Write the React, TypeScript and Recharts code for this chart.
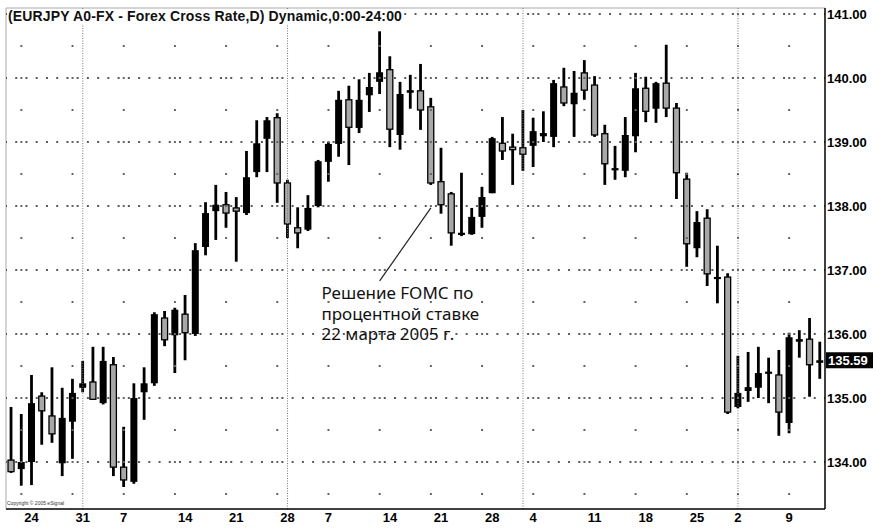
import React from 'react';
import {
  ComposedChart,
  Bar,
  XAxis,
  YAxis,
  ReferenceLine,
  ReferenceDot,
} from 'recharts';

const OPEN = [
  134.03, 133.89, 134.0, 135.03, 134.72, 133.98, 134.63, 135.16, 135.25, 134.92,
  135.52, 133.92, 133.69, 135.09, 135.23, 136.25, 135.98, 136.31, 136.0, 137.36,
  137.92, 138.02, 137.97, 137.89, 138.53, 139.05, 139.38, 138.36, 137.66, 137.63,
  138.0, 138.69, 138.97, 139.66, 139.22, 139.73, 139.94, 140.13, 139.11, 139.77,
  139.8, 139.55, 138.38, 138.19, 137.55, 137.56, 137.83, 138.2, 138.98, 138.92,
  138.91, 138.94, 139.09, 139.08, 139.86, 139.59, 140.08, 139.89, 139.13, 138.56,
  138.55, 139.09, 139.84, 139.52, 139.92, 139.53, 138.42, 137.34, 137.81, 136.86,
  136.89, 134.86, 135.11, 135.16, 135.38, 135.36, 134.61, 135.88, 135.92, 135.55,
];
const HIGH = [
  134.86, 134.75, 135.36, 135.09, 135.48, 135.16, 135.3, 135.58, 135.8, 135.8,
  135.64, 134.55, 135.23, 135.48, 136.34, 136.36, 136.41, 136.61, 137.42, 138.06,
  138.33, 138.22, 138.14, 138.86, 139.34, 139.39, 139.45, 138.41, 137.98, 138.17,
  138.72, 139.0, 139.8, 139.88, 139.98, 140.08, 140.73, 140.34, 139.94, 140.05,
  140.22, 139.69, 138.91, 138.22, 138.52, 137.97, 138.3, 139.08, 139.39, 139.13,
  139.5, 139.38, 139.48, 139.97, 140.16, 140.11, 140.28, 140.03, 139.27, 138.94,
  139.39, 140.08, 140.02, 139.94, 140.52, 139.61, 138.52, 137.92, 137.95, 137.38,
  136.95, 135.66, 135.72, 135.8, 135.63, 135.75, 136.02, 136.06, 136.25, 135.88,
];
const LOW = [
  133.83, 133.63, 133.64, 134.27, 134.3, 133.78, 134.05, 135.09, 134.97, 134.9,
  133.78, 133.61, 133.66, 134.66, 135.19, 135.81, 135.39, 135.59, 135.97, 137.23,
  137.47, 137.66, 137.13, 137.86, 138.45, 138.53, 138.05, 137.5, 137.34, 137.61,
  137.98, 138.38, 138.77, 138.64, 139.14, 139.47, 139.75, 138.92, 138.88, 139.52,
  139.19, 138.33, 137.88, 137.38, 137.53, 137.55, 137.66, 138.2, 138.72, 138.33,
  138.55, 138.61, 139.0, 138.92, 139.56, 139.08, 139.66, 139.08, 138.33, 138.41,
  138.45, 138.84, 139.31, 139.3, 139.39, 138.11, 137.05, 137.2, 136.75, 136.48,
  134.75, 134.84, 134.94, 135.0, 134.92, 134.41, 134.45, 135.63, 135.02, 135.3,
];
const CLOSE = [
  133.85, 134.0, 134.92, 134.8, 134.44, 134.69, 135.08, 135.23, 134.98, 135.58,
  133.92, 133.72, 135.0, 135.23, 136.31, 135.91, 136.38, 136.02, 137.31, 137.89,
  138.02, 137.89, 137.92, 138.45, 138.98, 139.34, 138.36, 137.72, 137.58, 137.97,
  138.7, 138.97, 139.66, 139.23, 139.66, 139.86, 140.09, 139.2, 139.75, 139.81,
  139.5, 138.36, 138.02, 137.58, 137.58, 137.83, 138.14, 139.06, 138.86, 138.88,
  138.81, 139.17, 139.14, 139.92, 139.61, 139.77, 139.81, 139.11, 138.66, 138.59,
  139.11, 139.84, 139.48, 139.92, 139.53, 138.52, 137.41, 137.75, 136.94, 136.89,
  134.78, 135.08, 135.17, 135.39, 135.41, 134.78, 135.95, 135.92, 135.52, 135.59,
];

const TICK_INDEX = [2, 7, 11, 17, 22, 27, 31, 37, 42, 47, 51, 57, 62, 67, 71, 76];
const TICK_LABELS = ['24', '31', '7', '14', '21', '28', '7', '14', '21', '28', '4', '11', '18', '25', '2', '9'];
const PRICE_TICKS = [134, 135, 136, 137, 138, 139, 140, 141];
const MONTH_LINES = [7, 27, 50, 71];
const WEEK_GRID = [1, 6, 11, 16, 21, 26, 31, 36, 41, 46, 51, 56, 61, 66, 71, 76];
const LAST_PRICE = 135.59;
const Y_MIN = 133.266;
const Y_MAX = 141.094;
const TITLE = '(EURJPY A0-FX - Forex Cross Rate,D) Dynamic,0:00-24:00';
const NOTE_LINES = ['Решение FOMC по', 'процентной ставке', '22 марта 2005 г.'];
const NOTE_ANCHOR = { x: 31, y: 136.547 };
const NOTE_LEADER = [
  { x: 41, y: 137.97 },
  { x: 36, y: 136.83 },
];

const data = OPEN.map((o, i) => ({
  i,
  o,
  h: HIGH[i],
  l: LOW[i],
  c: CLOSE[i],
  range: [LOW[i], HIGH[i]],
}));

const AXIS_FONT = 'Liberation Sans, Arial, sans-serif';

const Candle = (props: any) => {
  const { x, y, width, height, payload } = props;
  if (!payload) return null;
  const top = Math.min(y, y + height);
  const bot = Math.max(y, y + height);
  const { o, h, l, c } = payload;
  const span = h - l || 1;
  const py = (p: number) => top + ((h - p) / span) * (bot - top);
  const cx = x + width / 2;
  const up = c >= o;
  const bTop = py(Math.max(o, c));
  const bBot = py(Math.min(o, c));
  const bh = Math.max(bBot - bTop, 2.2);
  const bw = up ? 7 : 6;
  return (
    <g>
      <line x1={cx} x2={cx} y1={top} y2={bot} stroke="#000" strokeWidth={2.8} />
      <rect
        x={cx - bw / 2}
        y={bTop - (bh - (bBot - bTop)) / 2}
        width={bw}
        height={bh}
        fill={up ? '#000' : '#a8a8a8'}
        stroke="#000"
        strokeWidth={up ? 0 : 1.3}
      />
    </g>
  );
};

const NoteLabel = (props: any) => {
  const vb = props.viewBox || {};
  const x0 = (vb.x || 0) - 7;
  const y0 = vb.y || 0;
  return (
    <g>
      {NOTE_LINES.map((t, k) => (
        <text
          key={k}
          x={x0}
          y={y0 + k * 20.5}
          fill="#111"
          fontSize={17}
          fontFamily="Noto Sans, DejaVu Sans, sans-serif"
        >
          {t}
        </text>
      ))}
    </g>
  );
};

const LastPriceLabel = (props: any) => {
  const vb = props.viewBox || {};
  const bx = (vb.x || 0) + (vb.width || 0) + 1;
  const by = vb.y || 0;
  return (
    <g>
      <rect x={bx} y={by - 8} width={48} height={16} fill="#000" />
      <text x={bx + 2} y={by + 5} fill="#fff" fontSize={13} fontWeight={700} fontFamily={AXIS_FONT}>
        {LAST_PRICE.toFixed(2)}
      </text>
    </g>
  );
};

export default function App() {
  return (
    <div style={{ position: 'absolute', left: 0, top: 0, width: 873, height: 529, background: '#fff' }}>
      <ComposedChart
        width={873}
        height={529}
        data={data}
        margin={{ top: 8, right: 0, bottom: 0, left: 6 }}
      >
        <ReferenceLine y={Y_MAX} stroke="#aaa" strokeWidth={1} />
        <ReferenceLine x={data[0].i} position="start" stroke="#aaa" strokeWidth={1} />
        {PRICE_TICKS.map((p) => (
          <ReferenceLine
            key={'h' + p}
            y={p}
            stroke="#5a5a5a"
            strokeWidth={2}
            strokeDasharray="2 8.2375"
            strokeDashoffset={1}
          />
        ))}
        {WEEK_GRID.map((w) => (
          <ReferenceLine
            key={'w' + w}
            segment={[
              { x: w, y: Y_MAX },
              { x: w, y: Y_MIN },
            ]}
            stroke="#666"
            strokeWidth={2}
            strokeDasharray="2 30"
            strokeDashoffset={27}
          />
        ))}
        {MONTH_LINES.map((m) => (
          <ReferenceLine key={'m' + m} x={m} stroke="#777" strokeWidth={1} strokeDasharray="1 1.5" />
        ))}
        <XAxis
          dataKey="i"
          type="category"
          ticks={TICK_INDEX}
          interval={0}
          tickFormatter={(v: any) => TICK_LABELS[TICK_INDEX.indexOf(Number(v))] ?? ''}
          height={20}
          axisLine={{ stroke: '#000', strokeWidth: 1.5 }}
          tickLine={false}
          tickSize={0}
          tickMargin={4}
          tick={{ fill: '#000', fontSize: 13, fontWeight: 700, fontFamily: AXIS_FONT }}
        />
        <YAxis
          orientation="right"
          type="number"
          domain={[Y_MIN, Y_MAX]}
          allowDataOverflow
          ticks={PRICE_TICKS}
          interval={0}
          tickFormatter={(v: number) => v.toFixed(2)}
          width={48}
          axisLine={{ stroke: '#000', strokeWidth: 1.5 }}
          tickLine={false}
          tickSize={0}
          tickMargin={2}
          tick={{ fill: '#000', fontSize: 13, fontWeight: 700, fontFamily: AXIS_FONT }}
        />
        <Bar dataKey="range" shape={<Candle />} isAnimationActive={false} />
        <ReferenceLine segment={NOTE_LEADER} stroke="#222" strokeWidth={1.2} />
        <ReferenceDot
          x={NOTE_ANCHOR.x}
          y={NOTE_ANCHOR.y}
          r={0}
          fill="none"
          stroke="none"
          label={<NoteLabel />}
        />
        <ReferenceLine y={LAST_PRICE} stroke="none" label={<LastPriceLabel />} />
      </ComposedChart>
      <div
        style={{
          position: 'absolute',
          left: 7,
          top: 9,
          padding: '0 2px 0 1px',
          background: '#fff',
          color: '#111',
          fontFamily: AXIS_FONT,
          fontWeight: 700,
          fontSize: 14,
          letterSpacing: 0.15,
          lineHeight: '15px',
          whiteSpace: 'nowrap',
        }}
      >
        {TITLE}
      </div>
      <div
        style={{
          position: 'absolute',
          left: 7,
          top: 500,
          color: '#333',
          fontFamily: AXIS_FONT,
          fontSize: 5,
          lineHeight: '6px',
          whiteSpace: 'nowrap',
        }}
      >
        Copyright © 2005 eSignal
      </div>
    </div>
  );
}
